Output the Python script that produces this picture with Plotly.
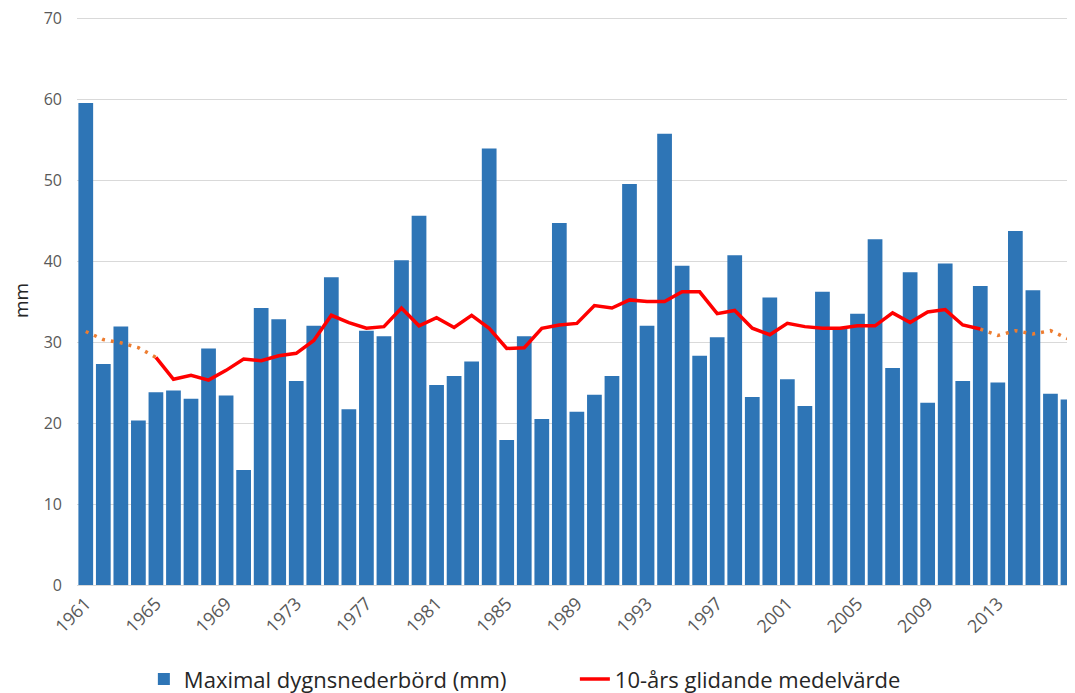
import plotly.graph_objects as go

years = list(range(1961, 2018))
max_precip = [
    59.5, 27.3, 31.9, 20.3, 23.8, 24.0, 23.0, 29.2, 23.4, 14.2,
    34.2, 32.8, 25.2, 32.0, 38.0, 21.7, 31.4, 30.7, 40.1, 45.6,
    24.7, 25.8, 27.6, 53.9, 17.9, 30.7, 20.5, 44.7, 21.4, 23.5,
    25.8, 49.5, 32.0, 55.7, 39.4, 28.3, 30.6, 40.7, 23.2, 35.5,
    25.4, 22.1, 36.2, 31.7, 33.5, 42.7, 26.8, 38.6, 22.5, 39.7,
    25.2, 36.9, 25.0, 43.7, 36.4, 23.6, 22.9,
]

ma_years = list(range(1965, 2013))
ma_values = [
    28.1, 25.4, 25.9, 25.3, 26.5, 27.9, 27.7, 28.3, 28.6, 30.2,
    33.3, 32.4, 31.7, 31.9, 34.2, 32.0, 33.0, 31.8, 33.3, 31.7,
    29.2, 29.3, 31.7, 32.1, 32.3, 34.5, 34.2, 35.2, 35.0, 35.0,
    36.2, 36.2, 33.5, 33.9, 31.7, 30.9, 32.3, 31.9, 31.7, 31.7,
    32.0, 32.0, 33.6, 32.4, 33.7, 34.0, 32.1, 31.6,
]

start_years = [1961, 1962, 1963, 1964, 1965]
start_values = [31.3, 30.3, 29.9, 29.3, 28.1]
end_years = [2012, 2013, 2014, 2015, 2016, 2017]
end_values = [31.6, 30.8, 31.4, 31.0, 31.4, 30.4]

tick_years = list(range(1961, 2018, 4))
tick_labels = [str(y) for y in tick_years]

BLUE = "#2E75B6"
RED = "#FF0000"
ORANGE = "#ED7D31"
GREY = "#595959"

fig = go.Figure()
fig.add_trace(go.Bar(
    x=years, y=max_precip, name="Maximal dygnsnederbörd (mm)",
    marker=dict(color=BLUE, line=dict(width=0)),
))
fig.add_trace(go.Scatter(
    x=start_years, y=start_values, mode="lines", showlegend=False,
    line=dict(color=ORANGE, width=3.5, dash="3px,6px"), hoverinfo="skip",
))
fig.add_trace(go.Scatter(
    x=end_years, y=end_values, mode="lines", showlegend=False,
    line=dict(color=ORANGE, width=3.5, dash="3px,6px"), hoverinfo="skip",
))
fig.add_trace(go.Scatter(
    x=ma_years, y=ma_values, mode="lines", name="10-års glidande medelvärde",
    line=dict(color=RED, width=3.5),
))

fig.update_layout(
    width=1067, height=685,
    margin=dict(l=69, r=0, t=8, b=108),
    paper_bgcolor="white", plot_bgcolor="white",
    bargap=0.16,
    font=dict(family="Open Sans", color=GREY, size=15),
    showlegend=True,
    legend=dict(
        orientation="h", x=0.067, xanchor="left",
        yref="container", y=0.02, yanchor="middle",
        font=dict(size=22, color="#262626"), entrywidth=386,
        bgcolor="rgba(0,0,0,0)",
    ),
    xaxis=dict(
        range=[1960.5, 2017.4], tickmode="array", tickvals=tick_years,
        ticktext=tick_labels, tickangle=-45, showgrid=False,
        showline=True, linecolor="#D9D9D9", linewidth=1, automargin=False,
        ticks="", tickfont=dict(size=18, color=GREY), zeroline=False,
    ),
    yaxis=dict(
        range=[0, 70.25], tickvals=[0, 10, 20, 30, 40, 50, 60, 70],
        showgrid=True, gridcolor="#D9D9D9", automargin=False,
        gridwidth=1, zeroline=False, ticks="", ticklabelstandoff=14,
        ticklabeloverflow="allow",
        tickfont=dict(size=16, color=GREY),
        title=dict(text="mm", font=dict(size=19, color="#262626"), standoff=20),
    ),
)

fig.write_html("out.html")
